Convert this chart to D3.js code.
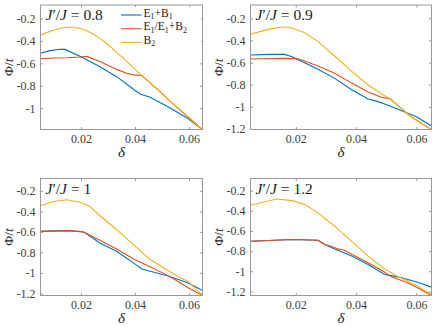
<!DOCTYPE html>
<html>
<head>
<meta charset="utf-8">
<script src="https://cdn.jsdelivr.net/npm/d3@7"></script>
<style>
  body { margin: 0; background: #fff; }
  svg text { font-family: "Liberation Serif", "DejaVu Serif", serif !important; }
  .frame { fill: none; stroke: #999; stroke-width: 1; }
  .tick line { stroke: #999; }
  .tick text { fill: #404040; }
  .domain { display: none; }
</style>
</head>
<body>
<div id="chart"></div>
<script>
// Data
var xTicks = [0.02, 0.04, 0.06];
var yTicksShort = [-1, -0.8, -0.6, -0.4, -0.2];
var yTicksLong = [-1.2, -1, -0.8, -0.6, -0.4, -0.2];
var ratios = ["0.8", "0.9", "1", "1.2"];
var seriesNames = ["E1+B1", "E1/E1+B2", "B2"];

// J'/J = 0.8
var p1BlueX = [0.005, 0.0085, 0.0122, 0.0141, 0.020, 0.0270, 0.0332, 0.0398, 0.0419, 0.0456, 0.0517, 0.0595, 0.065];
var p1BlueY = [-0.511, -0.487, -0.475, -0.476, -0.541, -0.630, -0.719, -0.838, -0.874, -0.903, -0.981, -1.090, -1.191];
var p1OrangeX = [0.005, 0.010, 0.015, 0.020, 0.0222, 0.0272, 0.0332, 0.0369, 0.0394, 0.0425, 0.045, 0.050, 0.055, 0.060, 0.065];
var p1OrangeY = [-0.559, -0.553, -0.550, -0.544, -0.538, -0.585, -0.654, -0.689, -0.703, -0.709, -0.761, -0.868, -0.981, -1.085, -1.191];
var p1YellowX = [0.005, 0.0075, 0.010, 0.0125, 0.015, 0.0175, 0.020, 0.0225, 0.025, 0.0275, 0.030, 0.035, 0.040, 0.0425, 0.045, 0.050, 0.055, 0.060, 0.065];
var p1YellowY = [-0.347, -0.324, -0.303, -0.288, -0.279, -0.279, -0.291, -0.315, -0.345, -0.386, -0.434, -0.541, -0.651, -0.709, -0.761, -0.868, -0.981, -1.085, -1.191];

// J'/J = 0.9
var p2BlueX = [0.005, 0.0108, 0.0163, 0.0188, 0.0274, 0.0329, 0.0387, 0.0440, 0.0462, 0.0495, 0.0539, 0.0600, 0.065];
var p2BlueY = [-0.532, -0.526, -0.526, -0.547, -0.661, -0.743, -0.848, -0.929, -0.944, -0.974, -1.023, -1.089, -1.173];
var p2OrangeX = [0.005, 0.0163, 0.0208, 0.0274, 0.0329, 0.0387, 0.0440, 0.0484, 0.0513, 0.0539, 0.0585, 0.065];
var p2OrangeY = [-0.568, -0.562, -0.565, -0.631, -0.697, -0.788, -0.866, -0.914, -0.928, -0.990, -1.095, -1.206];
var p2YellowX = [0.005, 0.0108, 0.0158, 0.0188, 0.0230, 0.0274, 0.0329, 0.0387, 0.0440, 0.0495, 0.0513, 0.0539, 0.0585, 0.065];
var p2YellowY = [-0.345, -0.300, -0.276, -0.288, -0.330, -0.411, -0.541, -0.682, -0.803, -0.900, -0.928, -0.990, -1.095, -1.206];

// J'/J = 1
var p3BlueX = [0.005, 0.0147, 0.020, 0.0212, 0.0270, 0.0332, 0.0398, 0.0425, 0.0456, 0.0517, 0.0595, 0.065];
var p3BlueY = [-0.595, -0.588, -0.598, -0.603, -0.708, -0.789, -0.909, -0.961, -0.983, -1.025, -1.096, -1.171];
var p3OrangeX = [0.005, 0.0147, 0.020, 0.0212, 0.0270, 0.0332, 0.0398, 0.0456, 0.0517, 0.0567, 0.0595, 0.065];
var p3OrangeY = [-0.595, -0.588, -0.598, -0.603, -0.682, -0.766, -0.870, -0.941, -1.019, -1.096, -1.142, -1.219];
var p3YellowX = [0.005, 0.0098, 0.0147, 0.020, 0.0233, 0.0270, 0.0332, 0.0398, 0.0456, 0.0517, 0.0567, 0.0595, 0.065];
var p3YellowY = [-0.346, -0.304, -0.287, -0.313, -0.352, -0.443, -0.579, -0.734, -0.870, -0.967, -1.048, -1.080, -1.219];

// J'/J = 1.2
var p4BlueX = [0.005, 0.0188, 0.0274, 0.0296, 0.0329, 0.0387, 0.0440, 0.0495, 0.0506, 0.0539, 0.0604, 0.065];
var p4BlueY = [-0.702, -0.685, -0.692, -0.735, -0.778, -0.850, -0.933, -1.032, -1.038, -1.055, -1.108, -1.157];
var p4OrangeX = [0.005, 0.0188, 0.0274, 0.0296, 0.0318, 0.0340, 0.0362, 0.0387, 0.0440, 0.0495, 0.0517, 0.0567, 0.0604, 0.065];
var p4OrangeY = [-0.702, -0.685, -0.692, -0.735, -0.751, -0.778, -0.791, -0.834, -0.916, -1.009, -1.055, -1.108, -1.164, -1.240];
var p4YellowX = [0.005, 0.0136, 0.0188, 0.0230, 0.0274, 0.0329, 0.0387, 0.0440, 0.0495, 0.0539, 0.0567, 0.0604, 0.065];
var p4YellowY = [-0.345, -0.283, -0.299, -0.339, -0.421, -0.553, -0.708, -0.850, -0.976, -1.055, -1.088, -1.147, -1.230];

var colors = ["#0072BD", "#D95319", "#EDB120"];
var serif = "'Liberation Serif', 'DejaVu Serif', serif";

// SVG height and width
var svgWidth = 436;
var svgHeight = 327;

var svg = d3.select("#chart")
  .append("svg")
  .attr("width", svgWidth)
  .attr("height", svgHeight);

// Panel boxes
var panels = [
  { left: 40.5, right: 202.5, top: 5, bottom: 129.5, yDomain: [-1.19, -0.08], yTicks: yTicksShort,
    series: [[p1BlueX, p1BlueY], [p1OrangeX, p1OrangeY], [p1YellowX, p1YellowY]] },
  { left: 250.5, right: 431.5, top: 5, bottom: 129.5, yDomain: [-1.205, -0.08], yTicks: yTicksLong,
    series: [[p2BlueX, p2BlueY], [p2OrangeX, p2OrangeY], [p2YellowX, p2YellowY]] },
  { left: 40.5, right: 202.5, top: 178.5, bottom: 295.5, yDomain: [-1.22, -0.08], yTicks: yTicksLong,
    series: [[p3BlueX, p3BlueY], [p3OrangeX, p3OrangeY], [p3YellowX, p3YellowY]] },
  { left: 250.5, right: 431.5, top: 178.5, bottom: 295.5, yDomain: [-1.24, -0.08], yTicks: yTicksLong,
    series: [[p4BlueX, p4BlueY], [p4OrangeX, p4OrangeY], [p4YellowX, p4YellowY]] }
];

function fmt(v) {
  return String(v);
}

panels.forEach(function(p, i) {
  var width = p.right - p.left;
  var height = p.bottom - p.top;

  var g = svg.append("g")
    .attr("transform", `translate(${p.left}, ${p.top})`);

  var x = d3.scaleLinear().domain([0.005, 0.065]).range([0, width]);
  var y = d3.scaleLinear().domain(p.yDomain).range([height, 0]);

  // Axes with inward ticks on all four sides
  var xAxis = g.append("g")
    .attr("transform", `translate(0, ${height})`)
    .call(d3.axisBottom(x).tickValues(xTicks).tickSize(-2.5).tickPadding(5).tickFormat(fmt));
  g.append("g")
    .call(d3.axisTop(x).tickValues(xTicks).tickSize(-2.5).tickFormat(""));
  var yAxis = g.append("g")
    .call(d3.axisLeft(y).tickValues(p.yTicks).tickSize(-2.5).tickPadding(5).tickFormat(fmt));
  g.append("g")
    .attr("transform", `translate(${width}, 0)`)
    .call(d3.axisRight(y).tickValues(p.yTicks).tickSize(-2.5).tickFormat(""));

  xAxis.attr("font-family", serif).attr("font-size", 12);
  yAxis.attr("font-family", serif).attr("font-size", 12);

  // Lines
  var clipId = "clip" + i;
  g.append("clipPath").attr("id", clipId)
    .append("rect").attr("width", width).attr("height", height);

  var line = d3.line()
    .x(d => x(d[0]))
    .y(d => y(d[1]));

  p.series.forEach(function(s, k) {
    var pts = s[0].map((v, j) => [v, s[1][j]]);
    g.append("path")
      .datum(pts)
      .attr("clip-path", `url(#${clipId})`)
      .attr("fill", "none")
      .attr("stroke", colors[k])
      .attr("stroke-width", 1.1)
      .attr("d", line);
  });

  // Frame
  g.append("rect")
    .attr("class", "frame")
    .attr("width", width)
    .attr("height", height);

  // Title inside the axes
  var title = g.append("text")
    .attr("x", 5)
    .attr("y", 15)
    .style("font-family", serif)
    .style("font-size", "15.5px")
    .style("fill", "#222");
  title.append("tspan").style("font-style", "italic").text("J");
  title.append("tspan").text("\u2032/");
  title.append("tspan").style("font-style", "italic").text("J");
  title.append("tspan").text(" = " + ratios[i]);

  // Axis labels
  var yl = g.append("text")
    .attr("transform", `translate(${-28}, ${height / 2}) rotate(-90)`)
    .attr("text-anchor", "middle")
    .style("font-family", serif)
    .style("font-size", "13.5px")
    .style("fill", "#222");
  yl.append("tspan").text("\u03A6/");
  yl.append("tspan").style("font-style", "italic").text("t");

  g.append("text")
    .attr("x", width / 2)
    .attr("y", height + 27)
    .attr("text-anchor", "middle")
    .style("font-family", serif)
    .style("font-size", "15px")
    .style("font-style", "italic")
    .style("fill", "#222")
    .text("\u03B4");
});

// Legend in the first panel
var legend = svg.append("g")
  .attr("transform", "translate(117, 7)");

legend.append("rect")
  .attr("width", 84)
  .attr("height", 41)
  .attr("fill", "#fff");

var legendLabels = [
  [["E", ""], ["1", "sub"], ["+B", ""], ["1", "sub"]],
  [["E", ""], ["1", "sub"], ["/E", ""], ["1", "sub"], ["+B", ""], ["2", "sub"]],
  [["B", ""], ["2", "sub"]]
];

seriesNames.forEach(function(name, k) {
  var row = legend.append("g")
    .attr("transform", `translate(0, ${8 + k * 13.7})`);
  row.append("line")
    .attr("x1", 4).attr("x2", 24.5)
    .attr("stroke", colors[k])
    .attr("stroke-width", 1.1);
  var t = row.append("text")
    .attr("x", 26.5)
    .attr("y", 4)
    .style("font-family", serif)
    .style("font-size", "11.5px")
    .style("fill", "#222");
  legendLabels[k].forEach(function(part) {
    if (part[1] === "sub") {
      t.append("tspan").attr("dy", 2.5).style("font-size", "8px").text(part[0]);
    } else {
      t.append("tspan").attr("dy", t.selectAll("tspan").size() ? -2.5 : 0).text(part[0]);
    }
  });
});
</script>
</body>
</html>
